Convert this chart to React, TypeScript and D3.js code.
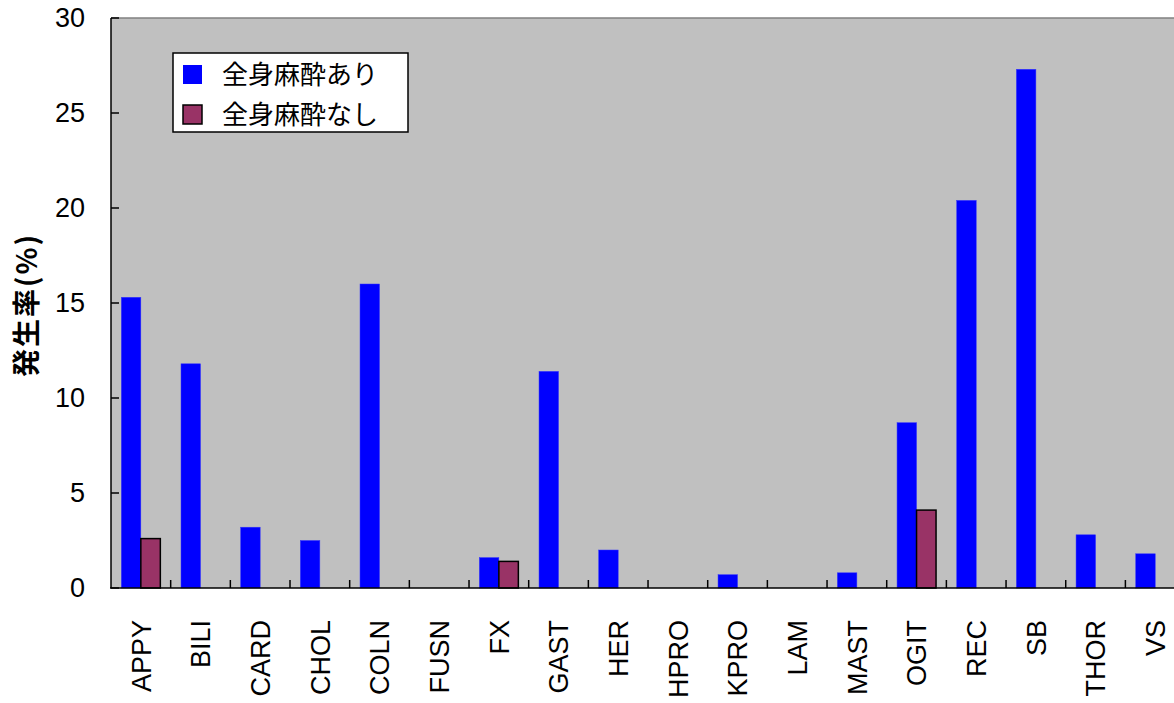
import React from "react";
import * as d3 from "d3";

const categories = ["APPY","BILI","CARD","CHOL","COLN","FUSN","FX","GAST","HER","HPRO","KPRO","LAM","MAST","OGIT","REC","SB","THOR","VS"];
const withGA = [15.3,11.8,3.2,2.5,16.0,0,1.6,11.4,2.0,0,0.7,0,0.8,8.7,20.4,27.3,2.8,1.8];
const withoutGA = [2.6,0,0,0,0,0,1.4,0,0,0,0,0,0,4.1,0,0,0,0];
const seriesNames = ["全身麻酔あり","全身麻酔なし"];
const seriesColors = ["#0000FF","#993366"];
const yTicks = [0,5,10,15,20,25,30];

const W = 1174, H = 703;
const left = 111, top = 18, bottom = 588;
const step = 59.67;
const right = left + step * categories.length;

export default function App() {
  const x = d3.scaleBand<string>().domain(categories).range([left, right]).paddingInner(0).paddingOuter(0);
  const bw = x.bandwidth();
  const x1 = d3.scaleBand<string>().domain(seriesNames).range([0, bw]).paddingInner(0).paddingOuter(0.53);
  const y = d3.scaleLinear().domain([0, 30]).range([bottom, top]);
  const series = [withGA, withoutGA];
  const font = "'Liberation Sans', Arial, sans-serif";
  const jp = "'Noto Sans CJK JP', sans-serif";

  return (
    <svg width={W} height={H} style={{ position: "absolute", left: 0, top: 0, background: "#fff" }}>
      <rect x={left} y={top} width={right - left} height={bottom - top} fill="#C0C0C0" />
      <line x1={left} x2={right} y1={top} y2={top} stroke="#808080" strokeWidth={1.5} />
      {series.map((vals, si) =>
        categories.map((c, i) => {
          const v = vals[i];
          if (!v) return null;
          const bx = (x(c) as number) + (x1(seriesNames[si]) as number);
          return (
            <rect key={si + "-" + c} x={bx} y={y(v)} width={x1.bandwidth()} height={bottom - y(v)}
              fill={seriesColors[si]}
              stroke={si === 1 ? "#000" : "#3333ff"}
              strokeWidth={si === 1 ? 1.5 : 0.5} />
          );
        })
      )}
      <line x1={left} x2={left} y1={top} y2={bottom} stroke="#000" strokeWidth={1.5} />
      <line x1={left - 1} x2={right} y1={bottom} y2={bottom} stroke="#000" strokeWidth={1.5} />
      {yTicks.map(t => (
        <g key={t}>
          <line x1={left} x2={left + 8} y1={y(t)} y2={y(t)} stroke="#000" strokeWidth={1.5} />
          <text x={85} y={y(t)} dy="0.35em" textAnchor="end" fontFamily={font} fontSize={27} fill="#000">{t}</text>
        </g>
      ))}
      {categories.slice(1).map(c => (
        <line key={"t" + c} x1={x(c)} x2={x(c)} y1={bottom} y2={bottom - 8} stroke="#000" strokeWidth={1.5} />
      ))}
      {categories.map(c => {
        const cx = (x(c) as number) + bw / 2;
        return (
          <text key={"l" + c} transform={`translate(${cx},620) rotate(-90)`} dy="0.36em" textAnchor="end"
            fontFamily={font} fontSize={27} fill="#000">{c}</text>
        );
      })}
      <text transform="translate(27,305) rotate(-90)" dy="0.36em" textAnchor="middle" fontFamily={jp}
        fontWeight="bold" fontSize={28} letterSpacing={2} fill="#000">発生率(%)</text>
      <rect x={173} y={53} width={235} height={79} fill="#fff" stroke="#000" strokeWidth={1.5} />
      {seriesNames.map((s, i) => (
        <g key={s}>
          <rect x={183} y={65 + i * 40} width={19} height={19} fill={seriesColors[i]}
            stroke={i === 1 ? "#000" : "none"} strokeWidth={1.5} />
          <text x={222} y={75 + i * 40} dy="0.36em" fontFamily={jp} fontSize={26} fill="#000">{s}</text>
        </g>
      ))}
    </svg>
  );
}
